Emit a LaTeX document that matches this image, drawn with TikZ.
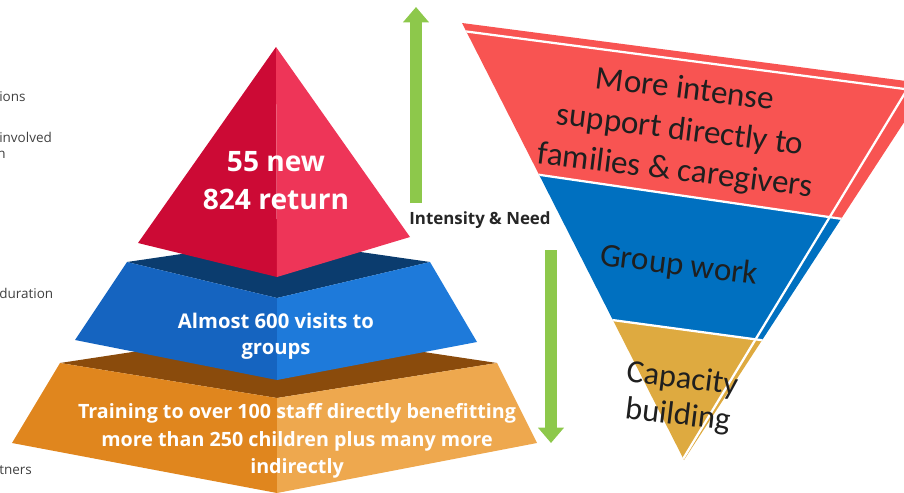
\documentclass[tikz,border=0pt]{standalone}
\usepackage{fontspec}
\setmainfont{Open Sans}
\newfontfamily\calfont{Carlito}
\usetikzlibrary{arrows.meta}

\definecolor{redLeft}{RGB}{204,10,53}
\definecolor{redRight}{RGB}{238,53,88}
\definecolor{blueTop}{RGB}{11,60,110}
\definecolor{blueLeft}{RGB}{21,100,192}
\definecolor{blueRight}{RGB}{30,122,218}
\definecolor{orangeTop}{RGB}{138,75,12}
\definecolor{orangeLeft}{RGB}{224,134,30}
\definecolor{orangeRight}{RGB}{238,168,78}
\definecolor{needGreen}{RGB}{141,200,75}
\definecolor{funnelRed}{RGB}{248,84,82}
\definecolor{funnelBlue}{RGB}{0,112,192}
\definecolor{funnelGold}{RGB}{222,170,64}

\tikzset{
  pyrtext/.style={text=white, align=center, inner sep=0pt},
  funneltext/.style={text=black!88, align=center, inner sep=0pt, rotate=-7,
    font=\calfont\fontsize{23.5}{29}\selectfont},
  sidelbl/.style={text=black!75, anchor=west, inner sep=0pt,
    font=\fontsize{9.6}{11}\selectfont},
  needarrow/.style={draw=needGreen, line width=8.5pt,
    -{Triangle[width=18pt,length=11pt]}},
  gapline/.style={white, line width=1.6pt}
}

\begin{document}
\begin{tikzpicture}[x=0.025cm, y=-0.025cm]
  % Canvas in pixel units, y runs downwards
  \useasboundingbox (0,0) rectangle (904,493);
  \clip (0,0) rectangle (904,493);

  % Cut-off labels on the left
  \node[sidelbl] (lblA) at (-1,97) {ions};
  \node[sidelbl] (lblB) at (-1,137) {involved};
  \node[sidelbl] (lblC) at (-3,155) {n};
  \node[sidelbl] (lblD) at (-1,293) {duration};
  \node[sidelbl] (lblE) at (-1,470) {tners};

  % Bottom tier (orange)
  \fill[orangeTop] (60,363) -- (277,330) -- (497,363) -- (277,398) -- cycle;
  \fill[orangeLeft] (60,363) -- (277,398) -- (277,493) -- (12,443) -- cycle;
  \fill[orangeRight] (277,398) -- (497,363) -- (537,443) -- (277,493) -- cycle;

  % Middle tier (blue)
  \fill[blueTop] (127,262) -- (277,240) -- (430,262) -- (277,298) -- cycle;
  \fill[blueLeft] (127,262) -- (277,298) -- (277,380) -- (75,340) -- cycle;
  \fill[blueRight] (277,298) -- (430,262) -- (477,342) -- (277,380) -- cycle;

  % Top pyramid (red)
  \fill[redLeft] (276,47) -- (138,243) -- (277,277) -- cycle;
  \fill[redRight] (276,47) -- (277,277) -- (410,237) -- cycle;

  % Pyramid texts
  \node[pyrtext, font=\bfseries\fontsize{20}{27}\selectfont] (topTxt)
    at (276,181) {55 new\\824 return};
  \node[pyrtext, font=\bfseries\fontsize{14.4}{18.5}\selectfont] (midTxt)
    at (276,336) {Almost 600 visits to\\groups};
  \node[pyrtext, font=\bfseries\fontsize{14}{19.5}\selectfont] (botTxt)
    at (297,441) {Training to over 100 staff directly benefitting\\more than 250 children plus many more\\indirectly};

  % Intensity arrows
  \coordinate (upFoot) at (416,203);
  \coordinate (upTip) at (416,7);
  \coordinate (downFoot) at (551,250);
  \coordinate (downTip) at (551,443);
  \draw[needarrow] (upFoot) -- (upTip);
  \draw[needarrow] (downFoot) -- (downTip);
  \node[font=\bfseries\fontsize{12}{14}\selectfont, text=black!85, inner sep=0pt]
    (needLbl) at (480,220) {Intensity \& Need};

  % Inverted pyramid, three bands
  \begin{scope}
    \clip (462,23) -- (929,84) -- (684,460) -- cycle;
    \fill[funnelRed] (440,0) -- (960,0) -- (960,236) -- (440,160) -- cycle;
    \fill[funnelBlue] (440,160) -- (960,236) -- (960,367) -- (440,296) -- cycle;
    \fill[funnelGold] (440,296) -- (960,367) -- (960,480) -- (440,480) -- cycle;
    % white seams
    \draw[gapline] (455,30) -- (935,93);
    \draw[gapline] (683,459) -- (908,88);
    \draw[gapline] (520,172) -- (870,223);
    \draw[gapline] (590,317) -- (790,344);
  \end{scope}

  % Inverted pyramid texts
  \node[funneltext] (introTxt) at (680,131)
    {More intense\\support directly to\\families \& caregivers};
  \node[funneltext] (groupTxt) at (679,266) {Group work};
  \node[funneltext, font=\calfont\fontsize{23}{26}\selectfont] (capTxt)
    at (680,398) {Capacity\\building};
\end{tikzpicture}
\end{document}
